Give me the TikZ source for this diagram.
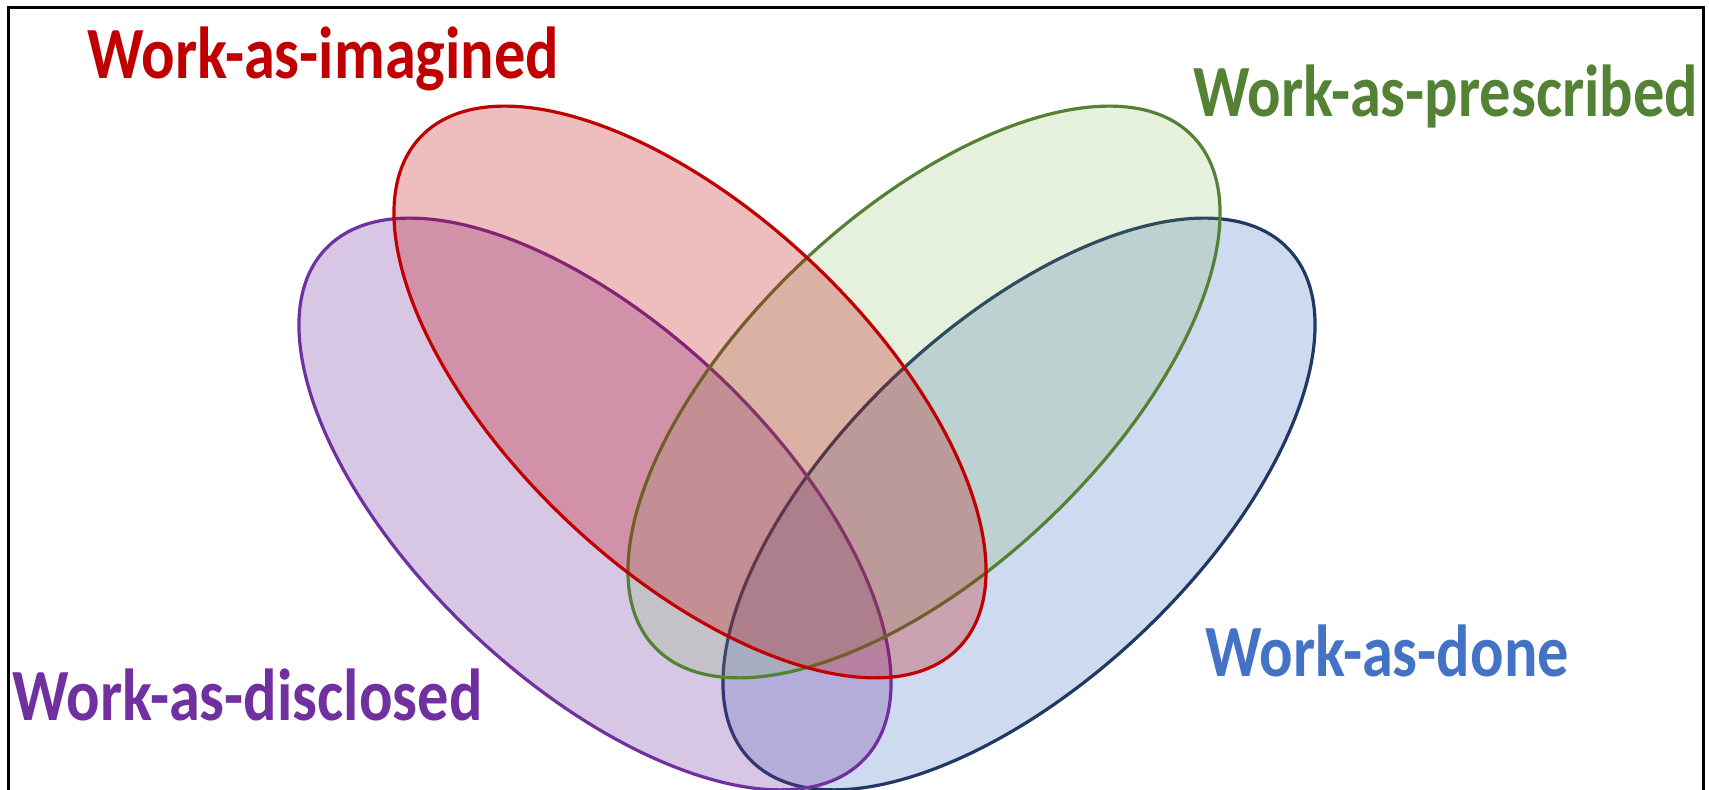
\documentclass[tikz,border=0pt]{standalone}
\usepackage{fontspec}
\setmainfont{Carlito}
\definecolor{cred}{HTML}{C00000}
\definecolor{cgreen}{HTML}{548235}
\definecolor{cgreenfill}{HTML}{70AD47}
\definecolor{cblue}{HTML}{4472C4}
\definecolor{cbluestroke}{HTML}{1F3864}
\definecolor{cpurple}{HTML}{7030A0}
\tikzset{
  venn/.style={line width=1.6pt},
  lab/.style={inner sep=0pt, anchor=base west, font=\fontsize{31.2}{36}\selectfont\bfseries},
}
\newcommand{\tallt}[1]{\scalebox{1}[1.18]{#1}}
\begin{document}
\begin{tikzpicture}[x=0.5pt,y=0.5pt]
\useasboundingbox (0,0) rectangle (1709,790);
\fill[white] (0,0) rectangle (1709,790);
% frame
\draw[line width=1.5pt] (8,-20) -- (8,782.5) -- (1703,782.5) -- (1703,-20);
% ellipses: blue, purple, green, red
\draw[venn, draw=cbluestroke, fill=cblue, fill opacity=0.26, rotate around={43.4:(1019,286)}] (1019,286) ellipse [x radius=371, y radius=178];
\draw[venn, draw=cpurple, fill=cpurple, fill opacity=0.27, rotate around={-43.4:(595,286)}] (595,286) ellipse [x radius=371, y radius=178];
\draw[venn, draw=cgreen, fill=cgreenfill, fill opacity=0.18, rotate around={43.4:(924,398)}] (924,398) ellipse [x radius=371, y radius=178];
\draw[venn, draw=cred, fill=cred, fill opacity=0.26, rotate around={-43.4:(690,398)}] (690,398) ellipse [x radius=371, y radius=178];
% labels
\node[lab, text=cred] (imagined) at (87,711.5) {\tallt{Work-as-imagined}};
\node[lab, text=cgreen] (prescribed) at (1193,673) {\tallt{Work-as-prescribed}};
\node[lab, text=cpurple] (disclosed) at (12,69) {\tallt{Work-as-disclosed}};
\node[lab, text=cblue] (done) at (1205,113) {\tallt{Work-as-done}};
\end{tikzpicture}
\end{document}
